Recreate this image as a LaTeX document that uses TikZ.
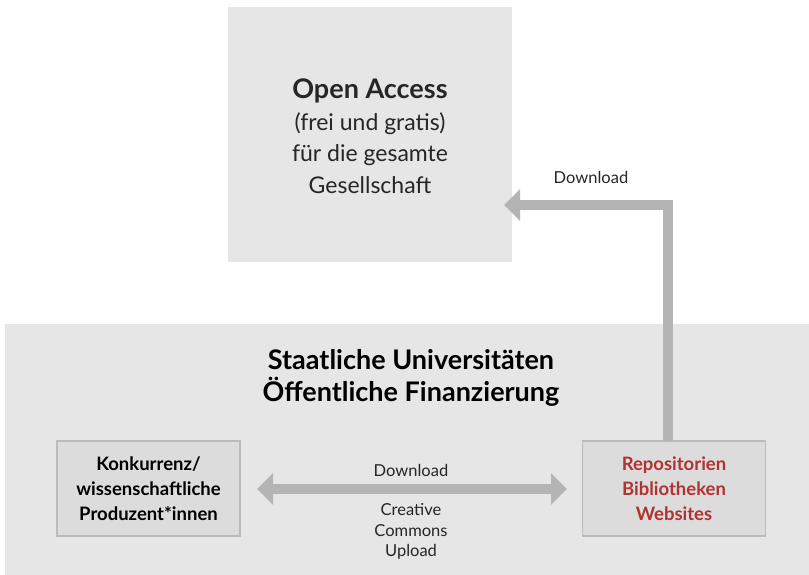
\documentclass[tikz,border=0pt]{standalone}
\usepackage{fontspec}
\setmainfont{Lato}
\usetikzlibrary{arrows.meta, positioning}
\definecolor{boxgray}{HTML}{E6E6E6}
\definecolor{innergray}{HTML}{DDDCDC}
\definecolor{linegray}{HTML}{BBBBBB}
\definecolor{arrowgray}{HTML}{B4B4B4}
\definecolor{repored}{HTML}{B03232}
\begin{document}
\begin{tikzpicture}[x=1pt, y=-1pt,
	area/.style = {fill=boxgray, draw=none, inner sep=0pt},
	actor/.style = {fill=innergray, draw=linegray, line width=1.2pt, minimum width=183pt, minimum height=95pt, align=center, font=\fontsize{18.5}{25}\selectfont\bfseries, inner sep=0pt},
	flow/.style = {draw=arrowgray, line width=10pt, -{Triangle[length=16pt, width=31pt]}},
	twoflow/.style = {flow, {Triangle[length=16pt, width=31pt]}-{Triangle[length=16pt, width=31pt]}},
	lbl/.style = {font=\fontsize{16.5}{20.5}\selectfont, align=center, text=black!85}]
	\useasboundingbox (0,0) rectangle (809,575);
	\fill[white] (0,0) rectangle (809,575);
	\node[area, minimum width=284pt, minimum height=255pt] (oa) at (370,134.5) {};
	\node[area, minimum width=804pt, minimum height=251pt] (uni) at (407,449.5) {};
	\node[align=center, font=\fontsize{23}{31.5}\selectfont, text=black!85] (oatext) at (370,136) {{\fontsize{27}{31.5}\selectfont\bfseries Open Access}\\(frei und gratis)\\für die gesamte\\Gesellschaft};
	\node[align=center, font=\fontsize{27}{32}\selectfont\bfseries] (unitext) at (411,378) {Staatliche Universitäten\\Öffentliche Finanzierung};
	\node[actor] (prod) at (148.5,488.5) {Konkurrenz/\\wissenschaftliche\\Produzent*innen};
	\node[actor, text=repored] (repo) at (674,488.5) {Repositorien\\Bibliotheken\\Websites};
	\coordinate (up) at (668,441);
	\coordinate (tip) at (504,205);
	\coordinate (ltip) at (257,489);
	\coordinate (rtip) at (567,489);
	\draw[flow] (up) |- (tip);
	\draw[twoflow] (ltip) -- (rtip);
	\node[lbl] (dltop) at (591,177) {Download};
	\node[lbl] (dlmid) at (411,470) {Download};
	\node[lbl] (cc) at (411,531.5) {Creative\\Commons\\Upload};
\end{tikzpicture}
\end{document}
